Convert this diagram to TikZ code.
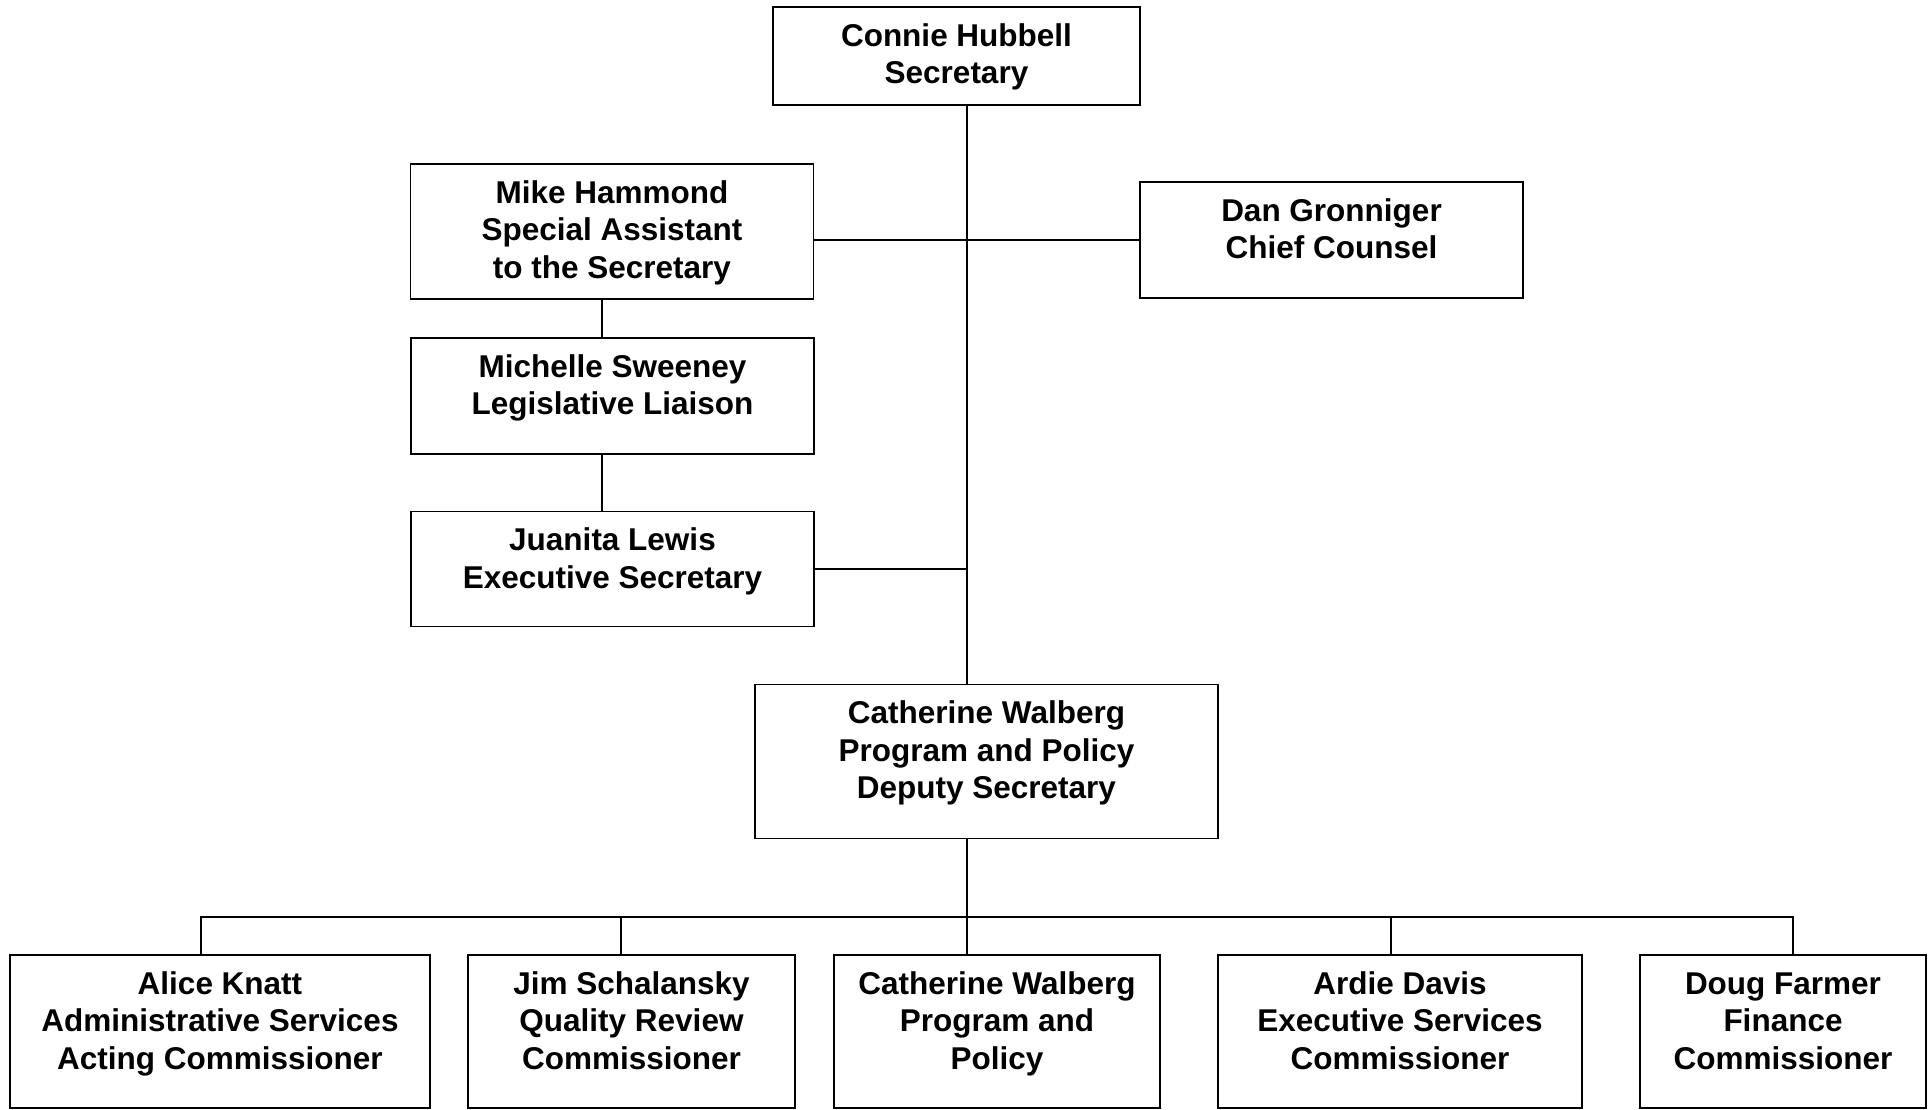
\documentclass[tikz,border=0pt]{standalone}
\usepackage{fontspec}
\setmainfont{Liberation Sans}
\begin{document}
\begin{tikzpicture}[x=1pt,y=-1pt,
  box/.style={draw, line width=1.6pt, inner sep=0pt, outer sep=0pt},
  conn/.style={line width=1.3pt}]
\newcommand\bx[3]{\parbox[c][#2pt][t]{#1pt}{\centering\bfseries\fontsize{31.5}{37.5}\selectfont\rule{0pt}{39pt}#3\par}}
\useasboundingbox (0,0) rectangle (1931,1109);
\fill[white] (0,0) rectangle (1931,1109);
% top part
\node[box] (connie)   at (956.5,56)   {\bx{367}{98}{Connie Hubbell\\Secretary}};
\node[box] (mike)     at (612,231.5)  {\bx{403}{135}{Mike Hammond\\Special Assistant\\to the Secretary}};
\node[box] (dan)      at (1331.5,240) {\bx{383}{116}{Dan Gronniger\\Chief Counsel}};
\node[box] (michelle) at (612.5,396)  {\bx{403}{116}{Michelle Sweeney\\Legislative Liaison}};
\node[box] (juanita)  at (612.5,569)  {\bx{403}{115}{Juanita Lewis\\Executive Secretary}};
\node[box] (deputy)   at (986.5,761.5){\bx{463}{154}{Catherine Walberg\\Program and Policy\\Deputy Secretary}};
% bottom row
\node[box] (alice) at (220,1031.5)   {\bx{420}{153}{Alice Knatt\\Administrative Services\\Acting Commissioner}};
\node[box] (jim)   at (631.5,1031.5) {\bx{327}{153}{Jim Schalansky\\Quality Review\\Commissioner}};
\node[box] (cw)    at (997,1031.5)   {\bx{326}{153}{Catherine Walberg\\Program and\\Policy}};
\node[box] (ardie) at (1400,1031.5)  {\bx{364}{153}{Ardie Davis\\Executive Services\\Commissioner}};
\node[box] (doug)  at (1783,1031.5)  {\bx{286}{153}{Doug Farmer\\Finance\\Commissioner}};
% helper coordinates
\coordinate (tx) at (967,0);
\coordinate (mx) at (602,0);
\coordinate (ax) at (201,917);
\coordinate (jx) at (621,917);
\coordinate (cx) at (967,917);
\coordinate (rx) at (1391,917);
\coordinate (dx) at (1793,917);
% connectors
\draw[conn] (connie.south -| tx) -- (deputy.north -| tx);
\draw[conn] (mike.east |- dan.west) -- (dan.west);
\draw[conn] (mike.south -| mx) -- (michelle.north -| mx);
\draw[conn] (michelle.south -| mx) -- (juanita.north -| mx);
\draw[conn] (juanita.east) -- (juanita.east -| tx);
\draw[conn] (deputy.south -| tx) -- (cw.north -| tx);
\draw[conn] (alice.north -| ax) -- (ax) -- (dx) -- (doug.north -| dx);
\draw[conn] (jx) -- (jim.north -| jx);
\draw[conn] (rx) -- (ardie.north -| rx);
\end{tikzpicture}
\end{document}
